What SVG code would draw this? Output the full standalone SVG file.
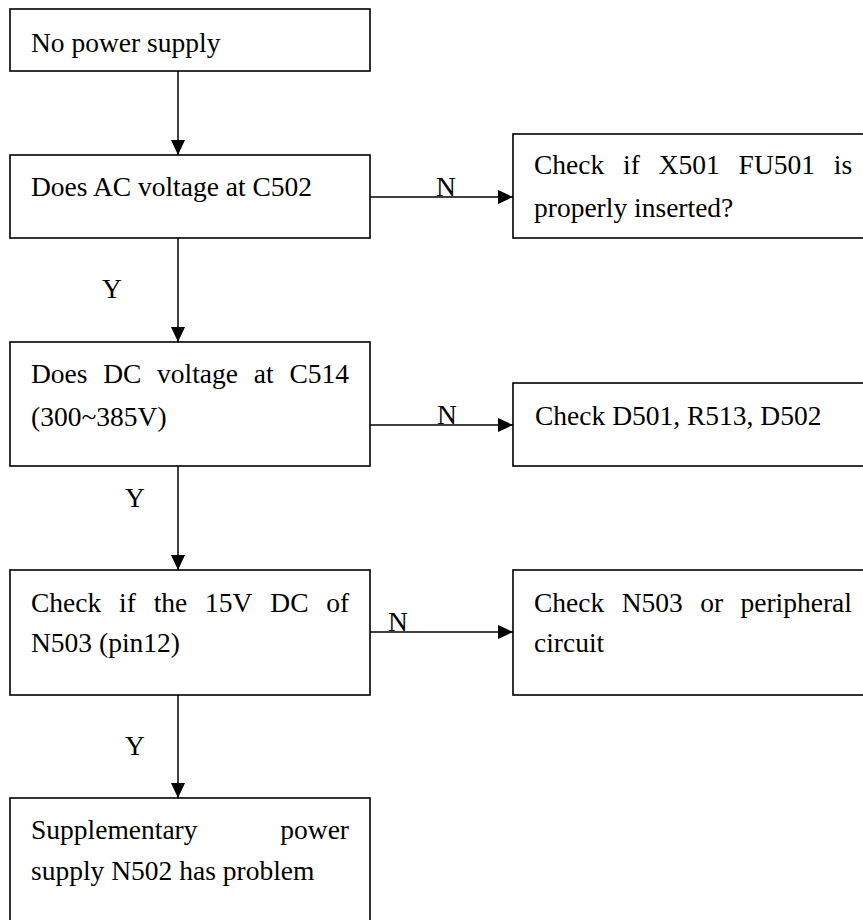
<svg xmlns="http://www.w3.org/2000/svg" width="863" height="920" viewBox="0 0 863 920">
<style>
.box{fill:#fff;stroke:#000;stroke-width:1.6}
.t{font-family:"Liberation Serif","Times New Roman",serif;font-size:27.5px;fill:#000}
.c{fill:none;stroke:#000;stroke-width:1.5}
</style>
<defs>
<marker id="ah" markerUnits="userSpaceOnUse" markerWidth="15" markerHeight="14" refX="15" refY="7" orient="auto">
<path d="M0,0 L15,7 L0,14 z" fill="#000"/>
</marker>
</defs>
<rect width="863" height="920" fill="#fff"/>
<g id="connectors">
<line class="c" x1="178" y1="71" x2="178" y2="155" marker-end="url(#ah)"/>
<line class="c" x1="178" y1="238" x2="178" y2="342" marker-end="url(#ah)"/>
<line class="c" x1="178" y1="466" x2="178" y2="570" marker-end="url(#ah)"/>
<line class="c" x1="178" y1="695" x2="178" y2="798" marker-end="url(#ah)"/>
<line class="c" x1="370" y1="197" x2="513" y2="197" marker-end="url(#ah)"/>
<line class="c" x1="370" y1="425" x2="513" y2="425" marker-end="url(#ah)"/>
<line class="c" x1="370" y1="632" x2="513" y2="632" marker-end="url(#ah)"/>
<text class="t" x="112" y="298" text-anchor="middle">Y</text>
<text class="t" x="135" y="507" text-anchor="middle">Y</text>
<text class="t" x="135" y="755" text-anchor="middle">Y</text>
<text class="t" x="446" y="196" text-anchor="middle">N</text>
<text class="t" x="447" y="424" text-anchor="middle">N</text>
<text class="t" x="398" y="631" text-anchor="middle">N</text>
</g>
<g id="n1">
<rect class="box" x="10" y="9" width="360" height="62"/>
<text class="t" x="31" y="52">No power supply</text>
</g>
<g id="n2">
<rect class="box" x="10" y="155" width="360" height="83"/>
<text class="t" x="31" y="196">Does AC voltage at C502</text>
</g>
<g id="n3">
<rect class="box" x="513" y="134" width="360" height="104"/>
<text class="t" y="174"><tspan x="534">Check</tspan><tspan x="623.1">if</tspan><tspan x="658.7">X501</tspan><tspan x="738.6">FU501</tspan><tspan x="833.8">is</tspan></text>
<text class="t" x="534" y="217">properly inserted?</text>
</g>
<g id="n4">
<rect class="box" x="10" y="342" width="360" height="124"/>
<text class="t" y="383"><tspan x="31">Does</tspan><tspan x="103.2">DC</tspan><tspan x="157.1">voltage</tspan><tspan x="253.8">at</tspan><tspan x="289.4">C514</tspan></text>
<text class="t" x="31" y="426">(300~385V)</text>
</g>
<g id="n5">
<rect class="box" x="513" y="383" width="360" height="83"/>
<text class="t" x="535" y="425">Check D501, R513, D502</text>
</g>
<g id="n6">
<rect class="box" x="10" y="570" width="360" height="125"/>
<text class="t" y="612"><tspan x="31">Check</tspan><tspan x="119.1">if</tspan><tspan x="153.7">the</tspan><tspan x="205.1">15V</tspan><tspan x="270.3">DC</tspan><tspan x="326.3">of</tspan></text>
<text class="t" x="31" y="652">N503 (pin12)</text>
</g>
<g id="n7">
<rect class="box" x="513" y="570" width="360" height="125"/>
<text class="t" y="612"><tspan x="534">Check</tspan><tspan x="621.7">N503</tspan><tspan x="700.2">or</tspan><tspan x="740.5">peripheral</tspan></text>
<text class="t" x="534" y="652">circuit</text>
</g>
<g id="n8">
<rect class="box" x="10" y="798" width="360" height="140"/>
<text class="t" y="839"><tspan x="31">Supplementary</tspan><tspan x="349" text-anchor="end">power</tspan></text>
<text class="t" x="31" y="880">supply N502 has problem</text>
</g>
</svg>
